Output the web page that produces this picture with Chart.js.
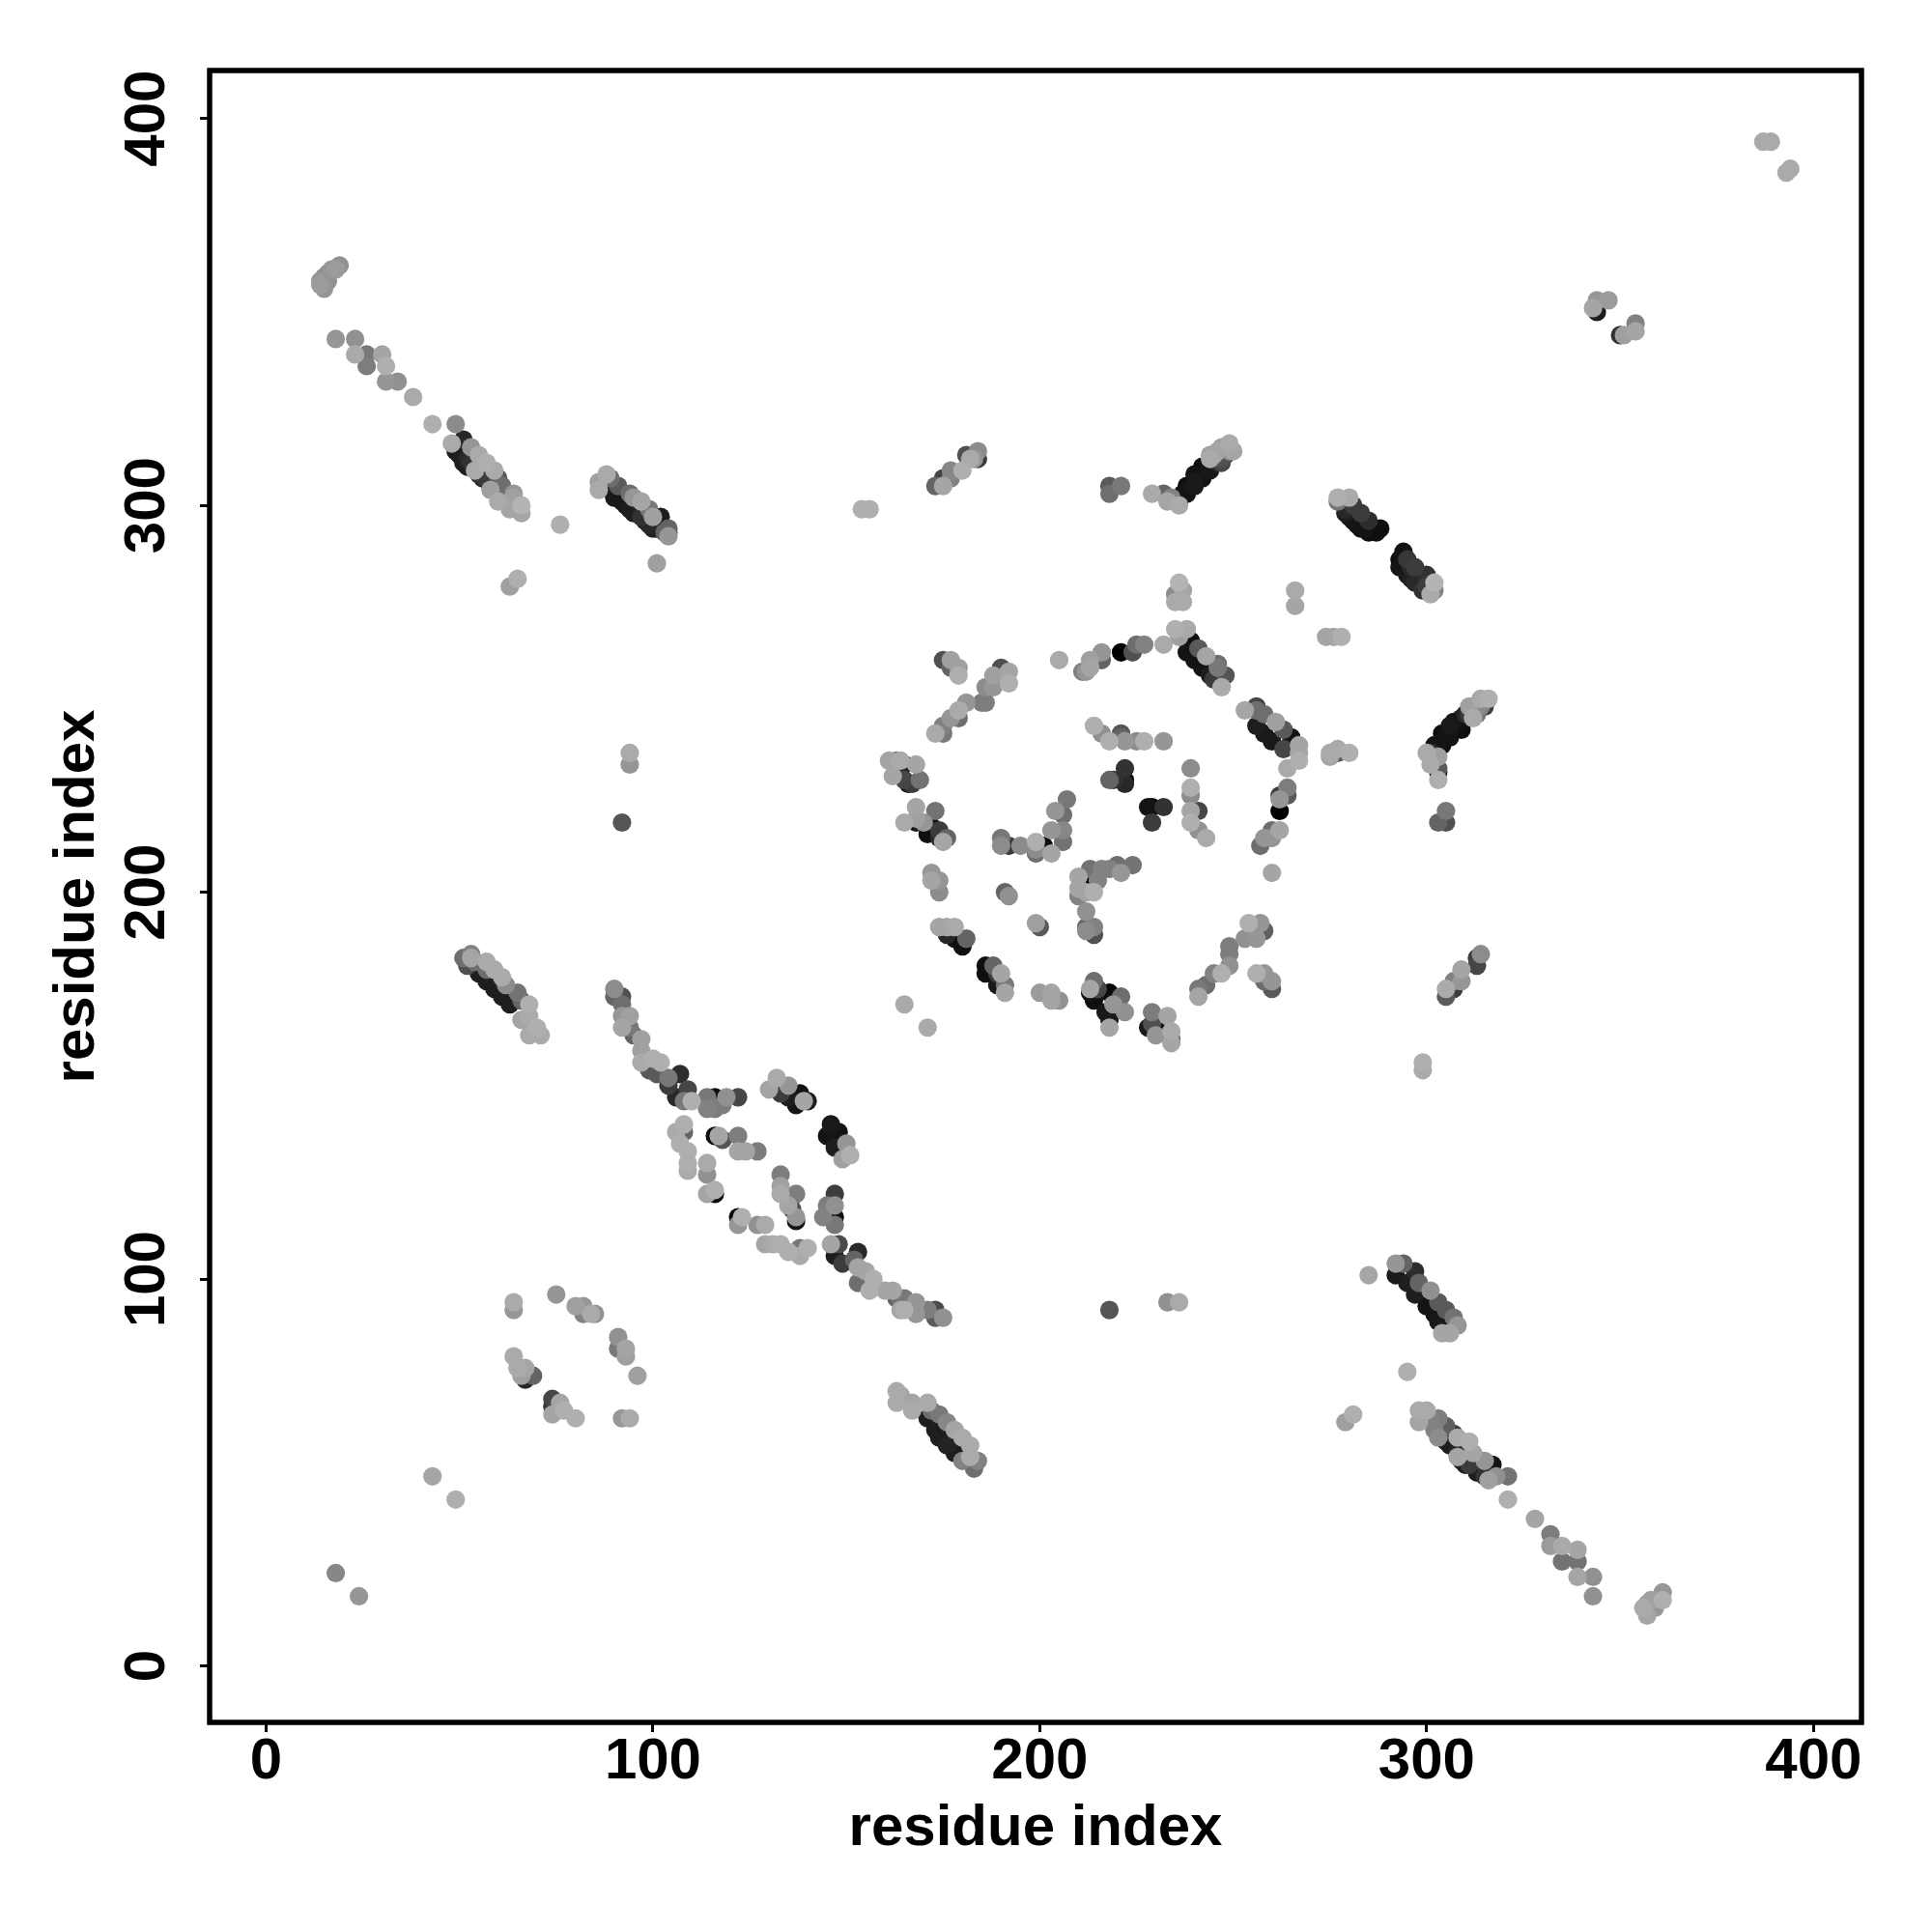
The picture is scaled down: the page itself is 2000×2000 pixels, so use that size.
<!DOCTYPE html>
<html>
<head>
<meta charset="utf-8">
<title>Residue contact map</title>
<script src="https://cdn.jsdelivr.net/npm/chart.js@4/dist/chart.umd.min.js"></script>
<style>
  html, body { margin: 0; padding: 0; background: #fff; }
  canvas { display: block; }
</style>
</head>
<body>
<canvas id="contactChart" width="2000" height="2000"></canvas>
<script>
const axisTicks = [0, 100, 200, 300, 400];
const axisTitle = 'residue index';

// one row per cluster
const contactX = [
  19,18,17,16,15,16,14,14,15,
  18,23,23,26,26,30,31,31,34,38,43,
  49,51,48,53,55,57,59,60,61,64,64,66,66,63,54,58,60,49,51,53,56,58,
  86,86,88,89,91,94,95,97,99,100,102,104,104,89,90,93,95,97,100,
  101,76,65,63,
  154,156,173,175,175,177,177,180,181,184,183,184,182,
  218,218,221,229,232,234,233,236,
  236,238,240,242,244,238,240,242,244,244,247,247,249,250,
  175,177,179,177,179,190,192,188,192,186,188,185,181,186,179,179,177,175,175,173,
  205,211,212,213,213,216,216,221,224,225,227,232,
  236,237,235,235,237,266,266,274,276,278,
  235,238,236,239,241,238,240,243,242,246,244,245,248,247,246,
  253,256,256,258,261,263,265,256,258,260,263,267,267,267,
  277,280,277,281,279,283,280,285,282,288,285,287,
  294,293,295,293,297,295,300,297,302,302,301,
  275,275,277,277,280,
  316,314,315,313,311,312,308,306,304,302,309,306,303,301,300,301,303,303,303,305,303,305,
  264,264,262,264,262,262,262,260,258,257,260,
  161,163,164,164,165,168,162,165,166,169,167,
  168,173,165,168,168,170,172,171,174,176,175,174,
  190,190,192,195,199,199,199,203,206,206,203,206,204,207,201,
  222,218,219,222,222,229,232,229,228,
  239,239,239,239,241,239,241,243,260,
  224,220,221,218,216,213,215,210,210,210,214,212,211,212,212,212,214,214,
  172,172,174,174,191,192,199,200,
  174,176,178,176,178,180,181,
  186,188,186,189,190,191,191,189,
  200,203,203,205,165,171,
  214,213,215,213,218,221,214,219,217,222,218,218,
  229,229,228,230,233,232,234,234,234,
  241,241,243,245,247,249,249,249,253,256,254,257,258,256,258,260,260,258,
  214,216,218,221,221,222,225,227,232,
  51,53,53,52,54,57,55,57,57,59,61,59,61,62,65,66,63,68,68,66,70,68,71,
  90,92,90,92,92,94,92,94,95,97,97,97,99,100,102,101,104,107,104,106,109,108,110,
  114,116,114,116,119,118,122,
  108,106,108,107,109,109,109,114,114,114,116,116,
  116,117,118,122,122,124,127,
  132,130,135,133,135,138,137,140,139,146,145,148,147,150,151,149,
  133,133,133,137,135,136,137,137,
  147,147,145,144,147,147,
  122,123,122,127,129,129,131,133,135,138,138,140,
  146,148,153,147,149,152,153,155,153,157,156,160,162,164,163,164,163,165,165,168,168,171,173,173,175,
  218,233,236,
  163,164,163,167,167,171,172,171,174,173,176,174,178,176,180,178,182,182,184,183,180,
  279,281,285,295,
  64,64,64,65,67,66,67,69,74,74,76,77,74,80,
  75,80,82,82,85,84,91,91,93,93,96,92,94,
  292,294,292,297,295,298,301,297,303,305,300,302,303,307,308,304,306,305,
  298,300,298,301,303,302,305,303,307,308,308,311,311,312,313,314,315,317,316,315,318,321,
  321,328,332,332,335,339,335,339,339,343,343,
  361,361,358,357,356,357,359,
  18,24,43,49,387,389,393,394,344,347,343,344,350,354,354,351,
  92,94,94,299,299,
  305,305,307,307,309,309,313,313,314,
  236,237,238,239,240,241,242,243,244,245,246,246,247,248,248,249,245,246,247,
  303,304,305,305,306,307,307,308,309,310,310,311,312,312,313,314,303,
  50,50,52,52,54,55,55,57,58,59,60,
  92,94,96,98,99,101,103,104,
  279,281,283,284,294,296,296,298,299,300,299,
  303,305,306,308,309,310
];

const contactY = [
  362,361,361,360,359,358,358,357,356,
  343,343,339,339,336,339,336,332,332,328,321,
  321,317,316,315,313,311,309,307,305,303,302,300,298,299,309,304,301,314,311,311,307,306,
  304,306,308,307,305,303,302,301,299,297,297,294,292,304,302,300,298,297,294,
  285,295,281,279,
  299,299,305,305,307,307,309,309,313,312,312,314,312,
  305,303,305,303,303,302,301,300,
  302,304,306,308,310,305,308,310,312,313,311,313,316,314,
  260,260,258,258,256,258,257,256,254,253,253,249,249,249,247,245,245,243,241,241,
  260,257,257,258,260,260,262,262,262,264,264,264,
  280,278,277,275,275,278,274,266,266,266,
  268,268,266,265,263,262,260,261,258,259,256,255,256,253,258,
  247,248,247,246,244,242,240,243,241,239,237,238,236,234,
  302,302,301,300,299,298,297,296,295,294,293,293,
  288,286,286,284,284,282,282,280,280,278,277,
  236,235,237,236,236,
  250,250,248,246,248,245,244,243,241,238,242,240,237,236,236,233,232,231,229,221,218,218,
  232,227,225,225,224,221,216,216,214,212,214,
  234,234,233,234,233,233,230,229,228,229,228,
  222,221,218,219,218,218,217,215,216,214,213,214,
  214,212,212,212,213,211,210,210,213,216,216,220,221,224,212,
  232,229,229,229,228,222,222,218,222,
  232,227,225,221,221,218,216,214,205,
  207,207,205,206,206,206,203,204,201,199,200,200,202,195,191,190,191,189,
  205,203,203,200,200,199,192,191,
  191,191,191,189,188,186,188,
  181,181,179,179,179,176,174,176,
  174,174,172,172,171,165,
  177,175,175,174,174,173,172,171,169,169,167,165,
  169,166,165,163,168,164,164,162,161,
  173,175,176,179,179,181,184,186,188,188,192,192,190,179,179,177,175,177,
  243,241,239,241,240,239,239,239,239,
  183,184,183,181,182,182,179,177,180,180,178,175,173,176,174,172,171,171,168,167,165,163,163,
  175,173,173,171,168,168,165,165,163,162,159,156,154,157,156,153,152,153,150,147,149,146,146,
  147,147,144,144,147,145,147,
  140,138,138,135,133,130,128,130,127,122,122,123,
  137,137,136,137,133,133,133,
  152,149,150,148,147,148,145,146,146,140,137,138,134,135,132,131,
  127,124,122,122,119,118,116,115,
  122,119,119,116,116,114,
  116,116,114,114,114,109,109,109,107,108,106,108,
  109,109,107,106,104,105,103,102,99,100,97,97,97,95,95,92,95,95,92,94,91,92,92,90,90,
  92,94,94,
  71,70,68,68,66,68,66,64,65,61,63,59,61,57,59,55,57,54,53,51,53,
  63,65,101,76,
  94,92,80,77,77,75,74,75,69,67,68,66,65,64,
  96,93,93,91,91,91,85,82,82,80,75,64,64,
  104,104,101,102,99,99,97,96,94,92,93,91,89,90,88,86,86,88,
  66,66,63,64,64,61,62,59,60,59,54,58,52,55,50,53,53,52,48,49,49,49,
  43,38,34,31,31,30,27,27,23,23,18,
  19,17,17,16,15,13,15,
  24,18,49,43,394,394,386,387,353,353,351,350,344,347,345,344,
  218,236,233,156,154,
  173,175,175,177,177,180,181,183,184,
  301,303,303,305,305,307,307,309,309,311,311,312,312,313,314,314,313,314,315,
  238,238,240,241,241,243,244,243,245,245,246,246,247,248,248,248,235,
  315,313,312,310,310,309,308,307,305,304,304,
  301,299,298,296,295,294,293,293,
  298,296,294,294,285,284,281,281,279,279,278,
  60,58,57,55,53,52
];

// contact score, 0..255, higher is darker on the map
const contactScore = [
  110,100,105,110,120,110,105,100,105,
  105,110,85,135,130,90,80,105,110,85,80,
  115,215,85,105,85,80,85,165,145,105,95,75,90,90,85,95,85,225,225,205,215,205,
  85,95,85,145,165,145,105,90,135,95,225,155,105,230,230,230,225,205,220,
  95,80,80,95,
  80,80,155,90,185,125,120,80,175,195,105,115,85,
  165,145,135,85,155,125,90,85,
  240,235,230,240,230,240,235,240,85,95,185,195,85,90,
  175,95,95,155,80,175,90,95,80,115,105,130,105,130,85,145,105,125,135,85,
  85,125,105,90,95,155,105,255,175,145,125,85,
  75,90,115,85,85,85,90,90,90,80,
  80,85,95,240,165,235,235,90,235,145,225,195,170,85,135,
  90,185,145,145,95,165,235,225,230,230,185,90,90,80,
  80,85,135,195,215,195,235,210,240,240,240,240,
  235,240,200,235,195,230,205,215,75,125,85,
  85,90,85,165,80,
  80,85,195,135,95,85,235,230,240,235,240,235,240,205,85,85,165,225,80,135,155,175,
  85,130,195,165,105,255,90,145,105,145,105,
  90,135,215,85,240,90,90,185,230,140,195,
  90,140,85,95,230,105,240,240,195,155,90,215,
  135,115,195,115,80,115,145,90,140,120,105,145,105,135,245,
  205,155,205,250,215,250,205,195,235,
  115,80,115,90,185,80,110,85,90,
  140,145,105,125,125,140,125,90,90,125,80,90,250,110,150,115,125,175,
  105,90,105,115,155,110,95,165,
  90,90,85,215,240,240,155,
  240,155,240,195,90,135,90,230,
  100,90,90,110,85,85,
  145,90,185,235,245,145,240,105,230,110,230,90,
  130,175,230,105,90,240,85,165,90,
  90,135,145,125,80,110,130,130,110,105,80,105,160,80,105,105,165,145,
  80,110,80,170,155,105,115,80,105,
  145,125,90,175,145,85,225,225,145,85,85,225,225,115,140,155,225,80,85,90,80,85,85,
  115,175,155,145,105,95,90,135,155,95,95,85,165,80,80,165,135,210,195,215,185,135,80,
  135,240,125,130,110,130,185,
  80,85,155,80,80,80,85,85,110,90,245,80,
  240,90,170,130,90,90,130,
  85,90,105,195,225,235,235,225,90,230,235,235,225,105,80,95,
  130,95,85,130,90,180,105,235,
  195,110,130,125,240,135,
  250,80,105,110,85,90,85,80,80,135,85,80,
  90,180,215,225,195,155,90,90,145,80,80,90,90,140,155,90,165,135,80,105,105,130,180,165,110,
  170,110,85,
  85,90,85,90,85,85,145,225,135,225,120,225,90,220,85,225,85,85,125,145,125,
  95,80,90,80,
  85,105,85,85,90,95,215,155,185,205,90,80,90,80,
  105,95,105,125,110,85,110,135,90,95,95,105,85,
  105,155,230,210,225,155,110,225,165,165,235,235,230,140,105,90,90,235,
  85,85,90,125,130,125,160,115,195,85,90,80,195,90,225,195,105,235,95,205,110,140,
  80,90,130,100,85,90,140,140,90,110,110,
  105,80,95,105,85,90,105,
  120,105,90,80,85,85,85,85,105,100,90,225,205,125,90,95,
  170,85,105,80,85,
  165,85,195,125,105,90,185,195,115,
  235,240,235,240,230,235,240,235,230,235,215,215,175,195,175,115,90,90,95,
  235,240,235,240,235,240,235,240,235,235,215,195,175,155,115,125,95,
  225,225,215,225,205,215,205,195,215,195,190,
  230,225,230,225,215,225,155,175,
  225,235,240,235,235,215,225,215,225,195,205,
  215,225,225,215,225,230
];

// darkest contacts first so the lighter ones sit on top
const drawOrder = contactScore.map((s, i) => i).sort((a, b) => contactScore[b] - contactScore[a]);
const points = drawOrder.map(i => ({ x: contactX[i], y: contactY[i] }));
const pointColors = drawOrder.map(i => {
    const g = 255 - contactScore[i];
    return `rgb(${g},${g},${g})`;
});

const fontFamily = '"Liberation Sans", Arial, sans-serif';

// frame round the plot and the rotated y tick labels
const framePlugin = {
    id: 'frame',
    afterDraw(chart) {
        const ctx = chart.ctx;
        const area = chart.chartArea;
        const yScale = chart.scales.y;
        ctx.save();
        ctx.strokeStyle = '#000';
        ctx.lineWidth = 5.5;
        ctx.strokeRect(area.left, area.top, area.right - area.left, area.bottom - area.top);
        ctx.fillStyle = '#000';
        ctx.font = 'bold 60px ' + fontFamily;
        ctx.textAlign = 'center';
        ctx.textBaseline = 'alphabetic';
        yScale.ticks.forEach(tick => {
            ctx.save();
            ctx.translate(170, yScale.getPixelForValue(tick.value));
            ctx.rotate(-Math.PI / 2);
            ctx.fillText(String(tick.value), 0, 0);
            ctx.restore();
        });
        ctx.restore();
    }
};

const setTicks = scale => { scale.ticks = axisTicks.map(v => ({ value: v })); };

const ctx = document.getElementById('contactChart').getContext('2d');
new Chart(ctx, {
    type: 'scatter',
    data: {
        datasets: [{
            data: points,
            pointBackgroundColor: pointColors,
            pointBorderWidth: 0,
            pointRadius: 9.6,
            pointHoverRadius: 9.6
        }]
    },
    options: {
        responsive: false,
        animation: false,
        layout: { padding: { top: 73, right: 73, bottom: 0, left: 0 } },
        plugins: { legend: { display: false }, tooltip: { enabled: false } },
        scales: {
            x: {
                type: 'linear',
                min: -14.6,
                max: 412.4,
                afterBuildTicks: setTicks,
                afterFit: s => { s.height = 217; },
                border: { display: false },
                grid: { drawOnChartArea: false, drawTicks: true, tickLength: 10, tickWidth: 3, tickColor: '#000' },
                ticks: {
                    color: '#000',
                    maxRotation: 0,
                    padding: -5,
                    font: { family: fontFamily, size: 60, weight: 'bold' }
                },
                title: {
                    display: true,
                    text: axisTitle,
                    color: '#000',
                    padding: { top: 0, bottom: 71 },
                    font: { family: fontFamily, size: 60, weight: 'bold' }
                }
            },
            y: {
                type: 'linear',
                min: -14.6,
                max: 412.4,
                afterBuildTicks: setTicks,
                afterFit: s => { s.width = 217; },
                border: { display: false },
                grid: { drawOnChartArea: false, drawTicks: true, tickLength: 10, tickWidth: 3, tickColor: '#000' },
                ticks: { display: false },
                title: {
                    display: true,
                    text: axisTitle,
                    color: '#000',
                    padding: { top: 44, bottom: 0 },
                    font: { family: fontFamily, size: 60, weight: 'bold' }
                }
            }
        }
    },
    plugins: [framePlugin]
});
</script>
</body>
</html>
